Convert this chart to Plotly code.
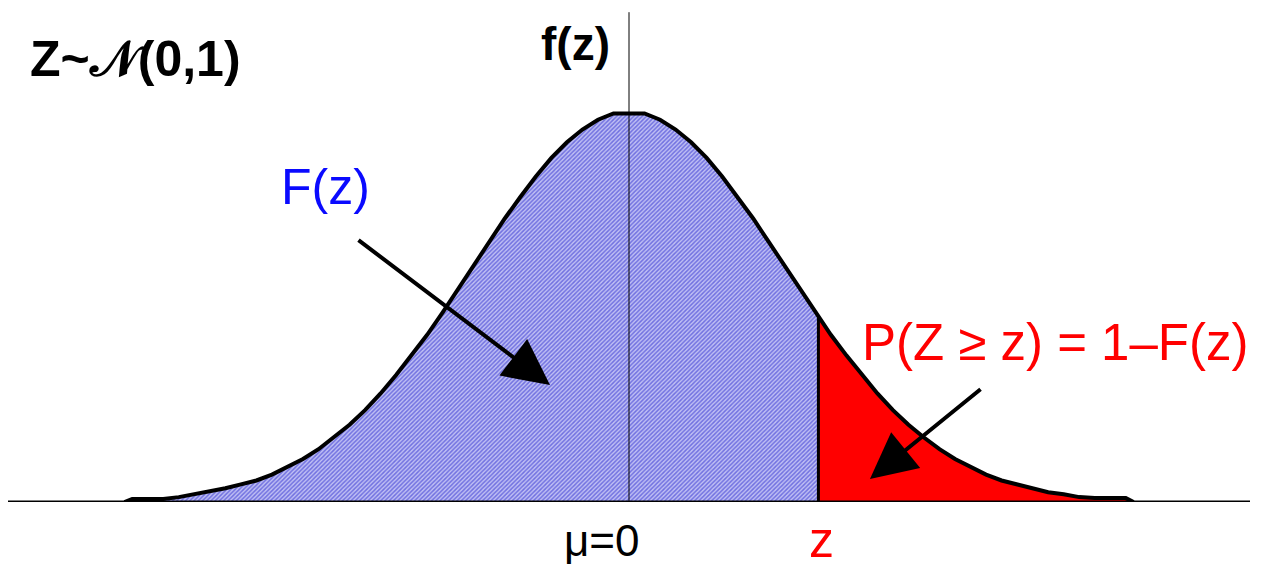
import plotly.graph_objects as go

# Density curve (x in standard deviations, f(x))
curve_x = [-3.25, -3.2, -3.1, -3.0, -2.9, -2.8, -2.7, -2.6, -2.5, -2.4, -2.3, -2.2, -2.1, -2.0,
           -1.9, -1.8, -1.7, -1.6, -1.5, -1.4, -1.3, -1.2, -1.1, -1.0, -0.9, -0.8, -0.7, -0.6,
           -0.5, -0.4, -0.3, -0.2, -0.1, 0.0, 0.1, 0.2, 0.3, 0.4, 0.5, 0.6, 0.7, 0.8, 0.9, 1.0,
           1.1, 1.2, 1.22, 1.3, 1.4, 1.5, 1.6, 1.7, 1.8, 1.9, 2.0, 2.1, 2.2, 2.3, 2.4, 2.5, 2.6,
           2.7, 2.8, 2.9, 3.0, 3.1, 3.2, 3.25]
curve_y = [0.000, 0.003, 0.003, 0.003, 0.005, 0.008, 0.010, 0.014, 0.018, 0.022, 0.028, 0.036, 0.044, 0.054,
           0.066, 0.079, 0.094, 0.111, 0.130, 0.150, 0.171, 0.194, 0.218, 0.242, 0.266, 0.290, 0.312, 0.333,
           0.352, 0.368, 0.381, 0.391, 0.3975, 0.3975, 0.3975, 0.391, 0.381, 0.368, 0.352, 0.333, 0.312, 0.290, 0.266, 0.242,
           0.218, 0.194, 0.190, 0.171, 0.150, 0.130, 0.111, 0.094, 0.079, 0.066, 0.054, 0.044, 0.036, 0.028, 0.022, 0.018, 0.014,
           0.010, 0.008, 0.005, 0.004, 0.004, 0.004, 0.000]

z_value = 1.22
mu_value = 0.0
axis_min, axis_max = -4.0, 4.0

left_x = [x for x in curve_x if x <= z_value]
left_y = [y for x, y in zip(curve_x, curve_y) if x <= z_value]
right_x = [x for x in curve_x if x >= z_value]
right_y = [y for x, y in zip(curve_x, curve_y) if x >= z_value]
z_height = curve_y[curve_x.index(z_value)]

FONT = "Liberation Sans, Arial, sans-serif"

fig = go.Figure()
fig.add_trace(go.Scatter(
    x=left_x, y=left_y, mode="lines", line=dict(width=0, color="rgba(0,0,0,0)"),
    fill="tozeroy", fillcolor="#c0c0f4",
    fillpattern=dict(shape="/", fgcolor="#1f1fcc", bgcolor="#c0c0f4", size=3, solidity=0.5),
    hoverinfo="skip", showlegend=False))
fig.add_trace(go.Scatter(
    x=right_x, y=right_y, mode="lines", line=dict(width=0, color="rgba(0,0,0,0)"),
    fill="tozeroy", fillcolor="#ff0000", hoverinfo="skip", showlegend=False))
fig.add_trace(go.Scatter(
    x=curve_x, y=curve_y, mode="lines", line=dict(width=4, color="black"),
    hoverinfo="skip", showlegend=False))

# axis lines
fig.add_shape(type="line", x0=axis_min, x1=axis_max, y0=0, y1=0, xref="x", yref="y",
              line=dict(color="black", width=3))
fig.add_shape(type="line", x0=mu_value, x1=mu_value, y0=0, y1=0.501, xref="x", yref="y",
              line=dict(color="black", width=1))
fig.add_shape(type="line", x0=z_value, x1=z_value, y0=0, y1=z_height, xref="x", yref="y",
              line=dict(color="black", width=3))

ann = []
ann.append(dict(x=-3.87, y=0.453, xref="x", yref="y", xanchor="left", yanchor="middle",
                text="<b>Z~𝒩(0,1)</b>", showarrow=False,
                font=dict(family=FONT, size=50, color="black")))
ann.append(dict(x=-0.11, y=0.468, xref="x", yref="y", xanchor="right", yanchor="middle",
                text="<b>f(z)</b>", showarrow=False,
                font=dict(family=FONT, size=46, color="black")))
ann.append(dict(x=-1.958, y=0.322, xref="x", yref="y", xanchor="center", yanchor="middle",
                text="F(z)", showarrow=False,
                font=dict(family=FONT, size=50, color="#0a0aff")))
ann.append(dict(x=1.488, y=0.163, xref="x", yref="y", xanchor="left", yanchor="middle",
                text="P(Z ≥ z) = 1–F(z)", showarrow=False,
                font=dict(family=FONT, size=51, color="#ff0000")))
ann.append(dict(x=-0.174, y=-0.077, xref="x", yref="paper", xanchor="center", yanchor="middle",
                text="μ=0", showarrow=False,
                font=dict(family=FONT, size=44, color="black")))
ann.append(dict(x=1.243, y=-0.077, xref="x", yref="paper", xanchor="center", yanchor="middle",
                text="z", showarrow=False,
                font=dict(family=FONT, size=50, color="#ff0000")))
# arrows
ann.append(dict(x=-0.509, y=0.1197, ax=-1.752, ay=0.269, xref="x", yref="y", axref="x", ayref="y",
                text="", showarrow=True, arrowhead=2, arrowsize=2.3, arrowwidth=4, arrowcolor="black"))
ann.append(dict(x=1.552, y=0.0235, ax=2.274, ay=0.1166, xref="x", yref="y", axref="x", ayref="y",
                text="", showarrow=True, arrowhead=2, arrowsize=2.3, arrowwidth=4, arrowcolor="black"))

# the page body adds an 8px offset; margins compensate so the axes land where the reference has them
fig.update_layout(
    width=1265, height=568,
    margin=dict(l=0, r=23, t=0, b=74, pad=0),
    paper_bgcolor="white", plot_bgcolor="white",
    xaxis=dict(range=[axis_min, axis_max], visible=False, fixedrange=True),
    yaxis=dict(range=[0, 0.5053], visible=False, fixedrange=True),
    annotations=ann,
)

fig.write_html("out.html")
